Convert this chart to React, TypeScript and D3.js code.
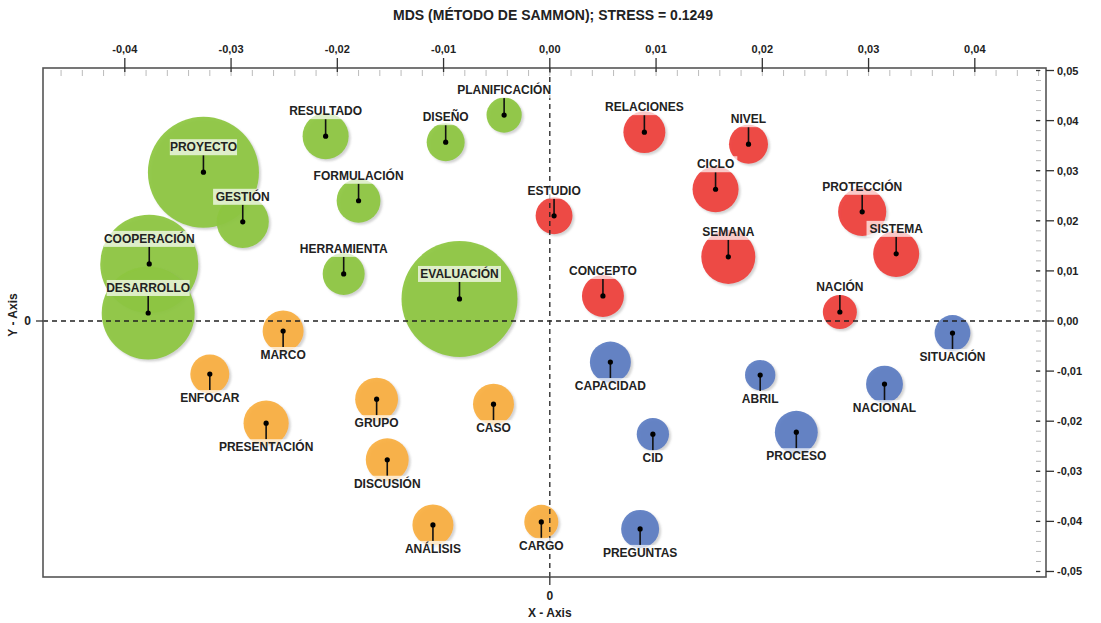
import React from "react";
import * as d3 from "d3";

const terms = [
  "PROYECTO", "GESTIÓN", "RESULTADO", "FORMULACIÓN", "COOPERACIÓN", "DESARROLLO", "HERRAMIENTA", "EVALUACIÓN", "DISEÑO", "PLANIFICACIÓN",
  "ESTUDIO", "RELACIONES", "CONCEPTO", "NIVEL", "CICLO", "SEMANA", "PROTECCIÓN", "SISTEMA", "NACIÓN",
  "MARCO", "ENFOCAR", "PRESENTACIÓN", "GRUPO", "CASO", "DISCUSIÓN", "ANÁLISIS", "CARGO",
  "CAPACIDAD", "ABRIL", "NACIONAL", "SITUACIÓN", "CID", "PROCESO", "PREGUNTAS",
];
const xValues = [
  -0.0326, -0.0289, -0.0211, -0.0180, -0.0377, -0.0378, -0.0194, -0.0085, -0.0098, -0.0043,
  0.0004, 0.0089, 0.0050, 0.0187, 0.0156, 0.0168, 0.0294, 0.0326, 0.0273,
  -0.0251, -0.0320, -0.0267, -0.0163, -0.0053, -0.0153, -0.0110, -0.0008,
  0.0057, 0.0198, 0.0315, 0.0379, 0.0097, 0.0232, 0.0085,
];
const yValues = [
  0.0297, 0.0198, 0.0369, 0.0240, 0.0114, 0.0016, 0.0094, 0.0044, 0.0357, 0.0411,
  0.0210, 0.0377, 0.0050, 0.0353, 0.0263, 0.0128, 0.0218, 0.0134, 0.0018,
  -0.0020, -0.0106, -0.0204, -0.0156, -0.0166, -0.0277, -0.0407, -0.0401,
  -0.0082, -0.0108, -0.0126, -0.0024, -0.0226, -0.0222, -0.0415,
];
const weights = [
  308, 68, 53, 48, 240, 216, 44, 336, 36, 31,
  34, 44, 44, 38, 53, 73, 58, 53, 29,
  42, 38, 51, 46, 42, 46, 42, 29,
  42, 23, 34, 32, 26, 46, 36,
];
const clusters = [
  0, 0, 0, 0, 0, 0, 0, 0, 0, 0,
  1, 1, 1, 1, 1, 1, 1, 1, 1,
  2, 2, 2, 2, 2, 2, 2, 2,
  3, 3, 3, 3, 3, 3, 3,
];
const clusterColors = ["#8DC63F", "#EE3E3A", "#F9AE40", "#5B7CC2"];
const labelAbove = [true, true, false, false];

const xTicks = [-0.04, -0.03, -0.02, -0.01, 0, 0.01, 0.02, 0.03, 0.04];
const yTicks = [0.05, 0.04, 0.03, 0.02, 0.01, 0, -0.01, -0.02, -0.03, -0.04, -0.05];
const xExtent = [-0.0477, 0.0467];
const yExtent = [-0.0511, 0.0505];
const title = "MDS (MÉTODO DE SAMMON); STRESS = 0.1249";

const W = 1101, H = 623;
const L = 43, R = 1046, T = 68, B = 577;
const FONT = "'Liberation Sans', Arial, Helvetica, sans-serif";

const fmt = (v: number) => {
  const s = Math.abs(v).toFixed(2).replace(".", ",");
  return (v < -1e-9 ? "-" : "") + s;
};

export default function App() {
  const x = d3.scaleLinear().domain(xExtent).range([L, R]);
  const y = d3.scaleLinear().domain(yExtent).range([B, T]);
  const r = d3.scaleSqrt().domain([0, d3.max(weights) as number]).range([0, 58]);

  const xMinor = d3.range(-0.046, 0.0461, 0.002).filter((v) => x(v) > L + 2 && x(v) < R - 2);
  const yMinor = d3.range(-0.05, 0.0501, 0.002).filter((v) => y(v) > T + 2 && y(v) < B - 2);

  const items = terms.map((t, i) => ({
    t, i, cx: x(xValues[i]), cy: y(yValues[i]), rad: r(weights[i]), c: clusters[i],
  }));

  const textW = (s: string) => s.length * 7.9;

  return (
    <svg width={W} height={H} style={{ position: "absolute", left: 0, top: 0, background: "#fff" }} fontFamily={FONT}>
      <defs>
        <filter id="sh" x="-20%" y="-20%" width="150%" height="150%">
          <feDropShadow dx="2" dy="2" stdDeviation="1.2" floodColor="#777" floodOpacity="0.35" />
        </filter>
      </defs>
      <text x={553} y={20} textAnchor="middle" fontSize={14} fontWeight="bold" fill="#222">{title}</text>

      <g>
        {items.map((d) => (
          <circle key={d.t} cx={d.cx} cy={d.cy} r={d.rad} fill={clusterColors[d.c]} fillOpacity={0.93} filter="url(#sh)" />
        ))}
      </g>

      <line x1={L} x2={R} y1={y(0)} y2={y(0)} stroke="#222" strokeWidth={1.3} strokeDasharray="5,4" />
      <line x1={x(0)} x2={x(0)} y1={T} y2={B} stroke="#222" strokeWidth={1.3} strokeDasharray="5,4" />

      <g>
        {items.map((d) => {
          const up = labelAbove[d.c];
          return (
            <g key={d.t}>
              <line x1={d.cx} x2={d.cx} y1={d.cy} y2={up ? d.cy - 17 : d.cy + 16} stroke="#111" strokeWidth={1.6} />
              <circle cx={d.cx} cy={d.cy} r={2.6} fill="#000" />
            </g>
          );
        })}
      </g>

      <g>
        {items.map((d) => {
          const up = labelAbove[d.c];
          const ly = up ? d.cy - 25 : d.cy + 24;
          const w = textW(d.t);
          return (
            <g key={d.t}>
              <rect x={d.cx - w / 2 - 2} y={ly - 8} width={w + 4} height={16} fill="#fff" fillOpacity={0.7} />
              <text x={d.cx} y={ly} textAnchor="middle" dominantBaseline="central" fontSize={12} fontWeight="bold" fill="#222">{d.t}</text>
            </g>
          );
        })}
      </g>

      <rect x={L} y={T} width={R - L} height={B - T} fill="none" stroke="#555" strokeWidth={1.6} />

      {xMinor.map((v, k) => (
        <line key={"xm" + k} x1={x(v)} x2={x(v)} y1={T + 2} y2={T + 8} stroke="#bbb" strokeWidth={1} />
      ))}
      {xTicks.map((v) => (
        <g key={"xt" + v}>
          <line x1={x(v)} x2={x(v)} y1={T - 10} y2={T + 4} stroke="#333" strokeWidth={1.3} />
          <text x={x(v)} y={T - 19} textAnchor="middle" dominantBaseline="central" fontSize={11} fontWeight="bold" fill="#222">{fmt(v)}</text>
        </g>
      ))}

      {yMinor.map((v, k) => (
        <line key={"ym" + k} x1={R - 10} x2={R - 5} y1={y(v)} y2={y(v)} stroke="#bbb" strokeWidth={1} />
      ))}
      {yTicks.map((v) => (
        <g key={"yt" + v}>
          <line x1={R - 10} x2={R - 6} y1={y(v)} y2={y(v)} stroke="#333" strokeWidth={1.3} />
          <line x1={R} x2={R + 8} y1={y(v)} y2={y(v)} stroke="#333" strokeWidth={1.3} />
          <text x={R + 11} y={y(v)} dominantBaseline="central" fontSize={11} fontWeight="bold" fill="#222">{fmt(v)}</text>
        </g>
      ))}

      <line x1={L - 7} x2={L} y1={y(0)} y2={y(0)} stroke="#333" strokeWidth={1.3} />
      <text x={L - 12} y={y(0)} textAnchor="end" dominantBaseline="central" fontSize={12} fontWeight="bold" fill="#222">0</text>
      <line x1={x(0)} x2={x(0)} y1={B} y2={B + 8} stroke="#333" strokeWidth={1.3} />
      <text x={x(0)} y={B + 19} textAnchor="middle" dominantBaseline="central" fontSize={12} fontWeight="bold" fill="#222">0</text>

      <text x={x(0)} y={613} textAnchor="middle" dominantBaseline="central" fontSize={12} fontWeight="bold" fill="#222">X - Axis</text>
      <text transform={`translate(13,${y(0) - 6}) rotate(-90)`} textAnchor="middle" dominantBaseline="central" fontSize={12} fontWeight="bold" fill="#222">Y - Axis</text>
    </svg>
  );
}
